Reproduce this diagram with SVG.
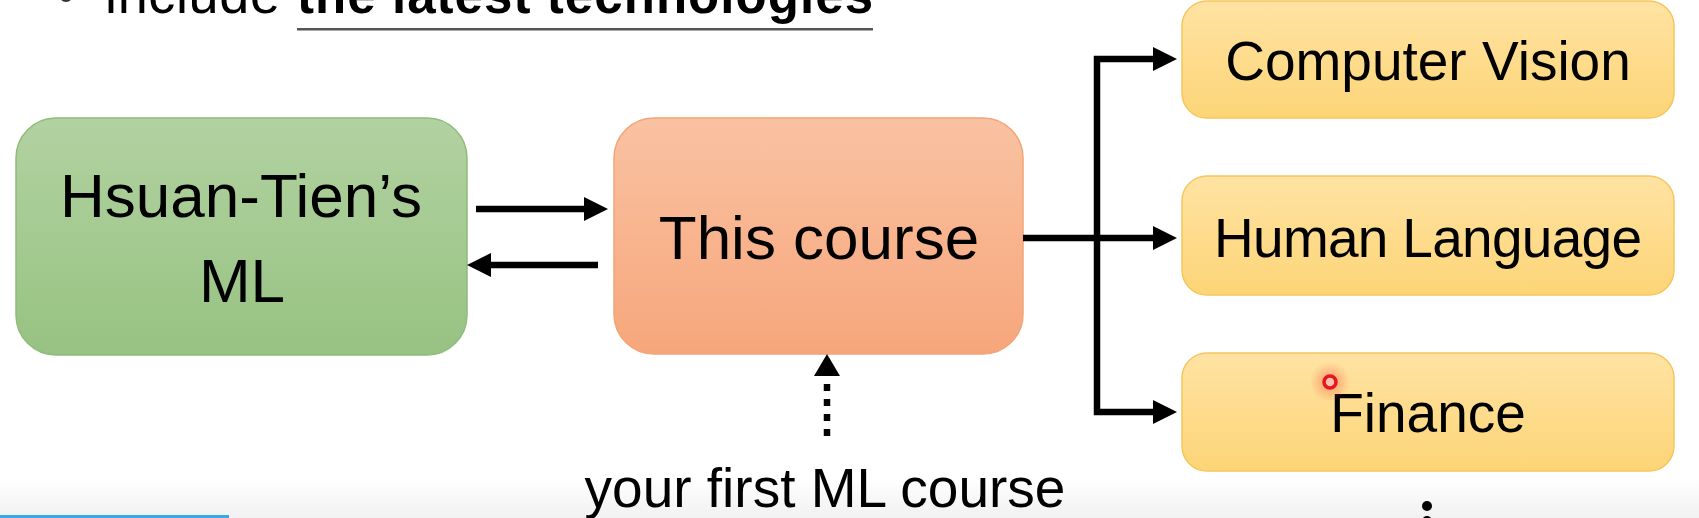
<svg xmlns="http://www.w3.org/2000/svg" width="1699" height="518" viewBox="0 0 1699 518">
  <defs>
    <linearGradient id="gGreen" x1="0" y1="0" x2="0" y2="1">
      <stop offset="0" stop-color="#b2d2a1"/>
      <stop offset="1" stop-color="#97c282"/>
    </linearGradient>
    <linearGradient id="gOrange" x1="0" y1="0" x2="0" y2="1">
      <stop offset="0" stop-color="#f9c2a2"/>
      <stop offset="1" stop-color="#f7a67b"/>
    </linearGradient>
    <linearGradient id="gYellow" x1="0" y1="0" x2="0" y2="1">
      <stop offset="0" stop-color="#ffe3a3"/>
      <stop offset="1" stop-color="#fdd577"/>
    </linearGradient>
    <linearGradient id="gBottom" x1="0" y1="0" x2="0" y2="1">
      <stop offset="0" stop-color="#ffffff"/>
      <stop offset="1" stop-color="#f1f1f1"/>
    </linearGradient>
    <radialGradient id="gGlow">
      <stop offset="0" stop-color="#ff5a4a" stop-opacity="0.55"/>
      <stop offset="1" stop-color="#ff5a4a" stop-opacity="0"/>
    </radialGradient>
    <marker id="head" viewBox="0 0 24 24" refX="6" refY="12" markerWidth="24" markerHeight="24" markerUnits="userSpaceOnUse" orient="auto-start-reverse">
      <path d="M0,0 L24,12 L0,24 Z" fill="#000"/>
    </marker>
    <marker id="headDot" viewBox="0 0 22 26" refX="-8" refY="13" markerWidth="22" markerHeight="26" markerUnits="userSpaceOnUse" orient="auto" overflow="visible">
      <path d="M0,0 L22,13 L0,26 Z" fill="#000"/>
    </marker>
  </defs>
  <style>
    .t { font-family: "Liberation Sans", Arial, sans-serif; fill: #000; text-anchor: middle; }
    .big { font-size: 62px; }
    .mid { font-size: 55px; }
    .conn { fill: none; stroke: #000; stroke-width: 6.5; }
    .box-y { fill: url(#gYellow); stroke: #f5c65c; stroke-width: 1.5; }
  </style>

  <rect x="0" y="0" width="1699" height="518" fill="#ffffff"/>
  <!-- bottom player band -->
  <rect x="0" y="478" width="1699" height="40" fill="url(#gBottom)"/>
  <rect x="0" y="515" width="229" height="3" fill="#3aa7e6"/>

  <!-- top heading fragment -->
  <g id="heading">
    <circle cx="66" cy="-5" r="7" fill="#333"/>
    <text x="105" y="13" font-family="Liberation Sans, Arial, sans-serif" font-size="54" fill="#000" textLength="175">include</text>
    <text x="297" y="13" font-family="Liberation Sans, Arial, sans-serif" font-size="51" font-weight="bold" fill="#000" textLength="576">the latest technologies</text>
    <rect x="297" y="28" width="576" height="2.5" fill="#555"/>
  </g>

  <g id="node-hsuan">
    <rect x="16" y="118" width="451" height="237" rx="40" fill="url(#gGreen)" stroke="#8fbb7b" stroke-width="1.5"/>
    <text class="t big" x="241" y="217">Hsuan-Tien’s</text>
    <text class="t big" x="242" y="302">ML</text>
  </g>

  <g id="node-course">
    <rect x="614" y="118" width="409" height="236" rx="40" fill="url(#gOrange)" stroke="#f3a476" stroke-width="1.5"/>
    <text class="t big" x="819" y="259">This course</text>
  </g>

  <g id="node-cv">
    <rect class="box-y" x="1182" y="1" width="492" height="117" rx="25"/>
    <text class="t mid" x="1428" y="80">Computer Vision</text>
  </g>

  <g id="node-hl">
    <rect class="box-y" x="1182" y="176" width="492" height="119" rx="25"/>
    <text class="t mid" x="1428" y="257" textLength="428">Human Language</text>
  </g>

  <g id="node-fin">
    <rect class="box-y" x="1182" y="353" width="492" height="118" rx="25"/>
    <text class="t mid" x="1428" y="432">Finance</text>
  </g>

  <g id="label-first">
    <text class="t mid" x="825" y="507">your first ML course</text>
  </g>

  <g id="connectors">
    <path class="conn" d="M476,209 H590" marker-end="url(#head)"/>
    <path class="conn" d="M598,265 H485" marker-end="url(#head)"/>
    <path class="conn" d="M1159,59 H1097 V412 H1159" marker-start="url(#head)" marker-end="url(#head)"/>
    <path class="conn" d="M1023,238 H1159" marker-end="url(#head)"/>
    <path class="conn" d="M827,436 V384" stroke-width="7" stroke-dasharray="7 8" marker-end="url(#headDot)"/>
  </g>

  <!-- laser pointer and continuation dots -->
  <g id="pointer">
    <circle cx="1330" cy="382" r="20" fill="url(#gGlow)"/>
    <circle cx="1330" cy="382" r="6" fill="#ffc2b0" stroke="#e8161c" stroke-width="3.5"/>
  </g>
  <g id="more-dots">
    <circle cx="1427" cy="506" r="5" fill="#000"/>
    <circle cx="1427" cy="521" r="5" fill="#000"/>
  </g>
</svg>
